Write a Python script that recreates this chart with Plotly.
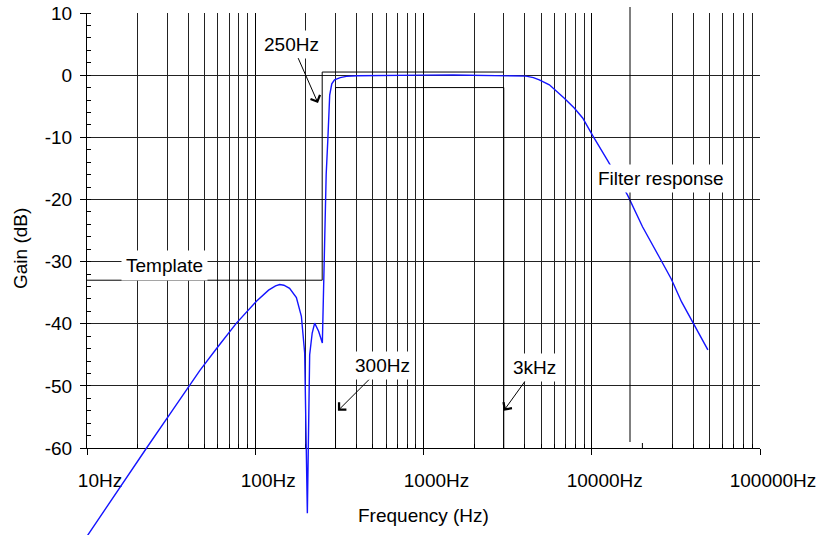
import numpy as np
import plotly.graph_objects as go

# ---------------- data ----------------
freq_hz = [10, 15, 22.6, 32.5, 40.3, 46.9, 60, 77.3, 101.6, 120, 132, 139.8, 148,
           160, 175.6, 188, 196.7, 204, 210.6, 218, 225.5, 238, 250.5, 258, 264,
           270, 277, 285, 296, 320, 348, 400, 500, 700, 1000, 1500, 2000,
           2500, 3000, 3500, 4070, 4500, 4878, 5598, 5990, 6412, 6870, 7870,
           8830, 10110, 12410, 16330, 20030, 25000, 29700, 34200, 39600, 49000]
gain_db = [-74.2, -67.1, -60.0, -53.8, -50.0, -47.5, -43.7, -39.9, -36.4, -34.6,
           -33.9, -33.7, -33.8, -34.3, -35.8, -38.8, -44.7, -70.5, -45.0, -41.5,
           -39.9, -41.2, -43.1, -25.0, -16.0, -10.4, -3.2, -1.4, -0.75, -0.4,
           -0.2, -0.1, -0.05, 0.0, 0.0, 0.02, 0.0, 0.0, -0.02, -0.05, -0.15,
           -0.4, -0.76, -1.56, -2.25, -2.9, -3.7, -5.3, -6.9, -9.7, -13.7,
           -19.3, -24.4, -29.1, -32.8, -36.5, -39.65, -44.2]

tmpl_upper_f = [10, 250, 250, 3000]
tmpl_upper_db = [-33, -33, 0.5, 0.5]
tmpl_lower_f = [300, 300, 3000, 3000]
tmpl_lower_db = [-60, -2, -2, -60]

x_tick_vals = [10, 100, 1000, 10000, 100000]
x_tick_text = ["10Hz", "100Hz", "1000Hz", "10000Hz", "100000Hz"]
y_tick_vals = [-60, -50, -40, -30, -20, -10, 0, 10]
y_tick_text = ["-60", "-50", "-40", "-30", "-20", "-10", "0", "10"]
minor_mult = [2, 3, 4, 5, 6, 7, 8, 9]
decades = [10, 100, 1000, 10000]
x_minor_vals = [m * d for d in decades for m in minor_mult if m * d != 20000]

# ---------------- geometry ----------------
W, H = 820, 535
ML, MR, MT, MB = 87, 60, 13, 0
plot_h = H - MT - MB
main_bottom_px = 448
y_dom0 = (H - main_bottom_px) / plot_h
y_main = [-60, 10]
db_per_px = (y_main[1] - y_main[0]) / ((1 - y_dom0) * plot_h)
y2_range = [y_main[1] - plot_h * db_per_px, y_main[1]]

FONT = "Arial, 'Liberation Sans', sans-serif"
FS = 19
GRID = "#222222"

fig = go.Figure()

fig.add_trace(go.Scatter(x=tmpl_upper_f, y=tmpl_upper_db, mode="lines",
                         line=dict(color="black", width=1), xaxis="x", yaxis="y",
                         showlegend=False, hoverinfo="skip"))
fig.add_trace(go.Scatter(x=tmpl_lower_f, y=tmpl_lower_db, mode="lines",
                         line=dict(color="black", width=1), xaxis="x", yaxis="y",
                         showlegend=False, hoverinfo="skip"))
fig.add_trace(go.Scatter(x=freq_hz, y=gain_db, mode="lines",
                         line=dict(color="#1414ff", width=1.4), xaxis="x2", yaxis="y2",
                         showlegend=False, name="Filter response"))

fig.update_layout(
    width=W, height=H, autosize=False,
    margin=dict(l=ML, r=MR, t=MT, b=MB),
    paper_bgcolor="white", plot_bgcolor="rgba(0,0,0,0)",
    font=dict(family=FONT, size=FS, color="black"),
    showlegend=False,
    xaxis=dict(type="log", range=[1, 5], domain=[0, 1], anchor="y",
               tickmode="array", tickvals=x_tick_vals, ticktext=x_tick_text,
               ticks="outside", ticklen=6, tickcolor="black", tickwidth=1,
               ticklabelshift=13, ticklabelstandoff=9,
               showgrid=True, gridcolor="black", gridwidth=1,
               showline=True, linecolor="black", linewidth=1,
               zeroline=False, automargin=False,
               minor=dict(tickmode="array", tickvals=x_minor_vals,
                          ticks="inside", ticklen=4, tickcolor="black",
                          showgrid=True, gridcolor=GRID, gridwidth=1)),
    yaxis=dict(range=y_main, domain=[y_dom0, 1], anchor="x",
               tickmode="array", tickvals=y_tick_vals, ticktext=y_tick_text,
               ticks="outside", ticklen=6, tickcolor="black", tickwidth=1,
               ticklabelstandoff=4,
               showgrid=True, gridcolor=GRID, gridwidth=1,
               showline=True, linecolor="black", linewidth=1,
               zeroline=False, automargin=False,
               minor=dict(dtick=2, ticks="inside", ticklen=4, tickcolor="black",
                          showgrid=False)),
    xaxis2=dict(type="log", range=[1, 5], domain=[0, 1], anchor="y2",
                visible=False, fixedrange=True),
    yaxis2=dict(range=y2_range, domain=[0, 1], anchor="x2",
                visible=False, fixedrange=True),
)

def px_to_paper_x(px):
    return (px - ML) / (W - ML - MR)

def px_to_paper_y(py):
    return (H - MB - py) / plot_h

# odd marker line near 16.7 kHz and the lone 20 kHz tick
fig.add_shape(type="line", xref="paper", yref="paper",
              x0=px_to_paper_x(630), x1=px_to_paper_x(630),
              y0=px_to_paper_y(442), y1=px_to_paper_y(7),
              line=dict(color="black", width=1))
x20k = (np.log10(20000) - 1) / 4
fig.add_shape(type="line", xref="paper", yref="paper",
              x0=x20k, x1=x20k, y0=y_dom0, y1=px_to_paper_y(443),
              line=dict(color="black", width=1))

ann_common = dict(font=dict(family=FONT, size=FS, color="black"),
                  bgcolor="white", borderpad=3)
arrow_common = dict(showarrow=True, arrowhead=4, arrowsize=2, arrowwidth=1,
                    arrowcolor="black", axref="pixel", ayref="pixel")

fig.add_annotation(text="250Hz", x=np.log10(236), y=-4.5, xref="x", yref="y",
                   ax=-26, ay=-59, **arrow_common, **ann_common)
fig.add_annotation(text="300Hz", x=np.log10(310), y=-54.0, xref="x", yref="y",
                   ax=45, ay=-45, **arrow_common, **ann_common)
fig.add_annotation(text="3kHz", x=np.log10(3000), y=-54.0, xref="x", yref="y",
                   ax=31, ay=-43, **arrow_common, **ann_common)
fig.add_annotation(text="Template", x=1.46, y=-30.6, xref="x", yref="y",
                   showarrow=False, font=dict(family=FONT, size=FS, color="black"),
                   bgcolor="white", borderpad=4)
fig.add_annotation(text="Filter response", x=4.4095, y=-16.6, xref="x", yref="y",
                   showarrow=False, **ann_common)

# axis titles
fig.add_annotation(text="Frequency (Hz)", xref="paper", yref="paper",
                   x=0.5, y=px_to_paper_y(515), xanchor="center", yanchor="middle",
                   showarrow=False, font=dict(family=FONT, size=FS, color="black"))
fig.add_annotation(text="Gain (dB)", xref="paper", yref="paper",
                   x=px_to_paper_x(20), y=px_to_paper_y(249), textangle=-90,
                   xanchor="center", yanchor="middle",
                   showarrow=False, font=dict(family=FONT, size=FS, color="black"))

fig.write_html("out.html")
